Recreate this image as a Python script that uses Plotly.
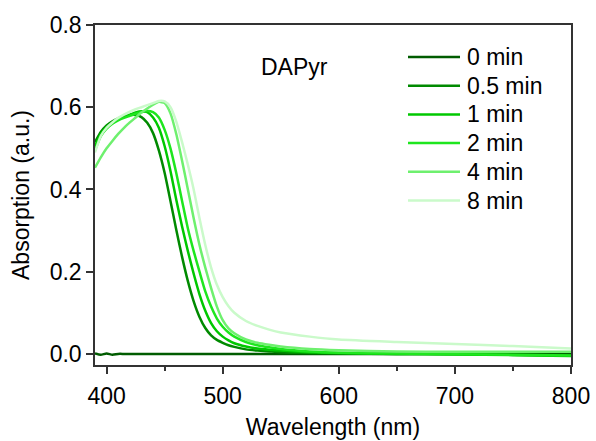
import plotly.graph_objects as go

wavelength = [390, 395, 400, 405, 410, 415, 420, 425, 430, 435, 440, 445, 450, 455, 460, 465,
              470, 475, 480, 485, 490, 495, 500, 505, 510, 520, 530, 540, 550, 575, 600, 650,
              700, 750, 800]

abs_0min = [0.001, -0.002, 0.001, -0.002, 0.0, 0.0, 0.0, 0.0, 0.0, 0.0, 0.0, 0.0, 0.0, 0.0, 0.0, 0.0,
            0.0, 0.0, 0.0, 0.0, 0.0, 0.0, 0.0, 0.0, 0.0, 0.0, 0.0, 0.0, 0.0, 0.0, 0.0, 0.0,
            0.0, 0.0, 0.0]
abs_05min = [0.515, 0.54, 0.556, 0.566, 0.573, 0.578, 0.581, 0.581, 0.576, 0.562, 0.537, 0.495, 0.44, 0.372, 0.302, 0.236,
             0.177, 0.128, 0.09, 0.063, 0.045, 0.034, 0.027, 0.021, 0.017, 0.011, 0.008, 0.006, 0.004, 0.002, 0.001, 0.0,
             -0.001, -0.002, -0.003]
abs_1min = [0.505, 0.535, 0.552, 0.563, 0.571, 0.577, 0.582, 0.587, 0.59, 0.588, 0.575, 0.55, 0.505, 0.445, 0.375, 0.31,
            0.25, 0.195, 0.145, 0.105, 0.075, 0.055, 0.042, 0.033, 0.026, 0.018, 0.013, 0.01, 0.008, 0.004, 0.002, 0.0,
            -0.001, -0.003, -0.005]
abs_2min = [0.495, 0.53, 0.548, 0.56, 0.568, 0.574, 0.579, 0.584, 0.588, 0.591, 0.588, 0.575, 0.545, 0.5, 0.44, 0.372,
            0.305, 0.25, 0.2, 0.152, 0.115, 0.086, 0.066, 0.052, 0.042, 0.029, 0.021, 0.016, 0.012, 0.006, 0.003, 0.001,
            -0.001, -0.002, -0.004]
abs_4min = [0.453, 0.478, 0.5, 0.518, 0.535, 0.55, 0.563, 0.575, 0.587, 0.597, 0.606, 0.613, 0.61, 0.585, 0.535, 0.47,
            0.4, 0.33, 0.265, 0.21, 0.16, 0.115, 0.082, 0.062, 0.05, 0.035, 0.027, 0.022, 0.018, 0.012, 0.009, 0.006,
            0.005, 0.005, 0.005]
abs_8min = [0.49, 0.53, 0.55, 0.563, 0.574, 0.582, 0.589, 0.595, 0.6, 0.605, 0.61, 0.615, 0.614, 0.6, 0.565, 0.515,
            0.46, 0.4, 0.33, 0.265, 0.21, 0.168, 0.138, 0.116, 0.1, 0.08, 0.068, 0.059, 0.052, 0.042, 0.035, 0.029,
            0.024, 0.019, 0.013]

series_names = ["0 min", "0.5 min", "1 min", "2 min", "4 min", "8 min"]
series_values = [abs_0min, abs_05min, abs_1min, abs_2min, abs_4min, abs_8min]
colors = ["#005c00", "#008a00", "#00c800", "#1ee61e", "#6ef06e", "#cafaca"]

x_ticks = [400, 500, 600, 700, 800]
y_ticks = [0.0, 0.2, 0.4, 0.6, 0.8]
y_tick_labels = ["0.0", "0.2", "0.4", "0.6", "0.8"]

FONT = "Arial, Liberation Sans, sans-serif"
FS = 23

fig = go.Figure()
for name, vals, c in zip(series_names, series_values, colors):
    fig.add_trace(go.Scatter(x=wavelength, y=vals, mode="lines", name=name, showlegend=False,
                             line=dict(color=c, width=2.5, shape="spline", smoothing=0.6)))

# Legend drawn in paper coordinates (sample line + label per series)
L, T, W, H = 95, 25, 476, 340
def px2paper(px, py):
    return (px - L) / W, 1 - (py - T) / H

shapes = []
annotations = []
for i, (name, c) in enumerate(zip(series_names, colors)):
    row_y = 57 + 28.7 * i
    x0, y0 = px2paper(408, row_y)
    x1, _ = px2paper(460, row_y)
    tx, _ = px2paper(465, row_y)
    shapes.append(dict(type="line", xref="paper", yref="paper", x0=x0, x1=x1, y0=y0, y1=y0,
                       line=dict(color=c, width=2.5)))
    annotations.append(dict(text=name, x=tx, y=y0, xref="paper", yref="paper", xanchor="left",
                            yanchor="middle", showarrow=False,
                            font=dict(family=FONT, size=FS, color="black")))

dx, dy = px2paper(294, 67)
annotations.append(dict(text="DAPyr", x=dx, y=dy, xref="paper", yref="paper", xanchor="center",
                        yanchor="middle", showarrow=False, font=dict(family=FONT, size=FS, color="black")))

fig.update_layout(
    width=596, height=441,
    margin=dict(l=L, r=596 - L - W, t=T, b=441 - T - H, autoexpand=False),
    paper_bgcolor="white", plot_bgcolor="white",
    font=dict(family=FONT, size=FS, color="black"),
    shapes=shapes,
    annotations=annotations,
)
fig.update_xaxes(range=[390, 800], tickvals=x_ticks, ticks="outside", ticklen=7, tickwidth=1.5,
                 tickcolor="#333", showline=True, linecolor="#333", linewidth=1.5, mirror=True,
                 showgrid=False, zeroline=False, ticklabelstandoff=3, automargin=False,
                 minor=dict(tickvals=[450, 550, 650, 750], ticks="outside", ticklen=4, tickcolor="#333", tickwidth=1.5),
                 title=dict(text="Wavelength (nm)", font=dict(family=FONT, size=FS), standoff=11),
                 tickfont=dict(family=FONT, size=FS))
fig.update_yaxes(range=[-0.027, 0.8], tickvals=y_ticks, ticktext=y_tick_labels, ticks="outside", ticklen=7,
                 tickwidth=1.5, tickcolor="#333", showline=True, linecolor="#333", linewidth=1.5, mirror=True,
                 showgrid=False, zeroline=False, automargin=False,
                 title=dict(text="Absorption (a.u.)", font=dict(family=FONT, size=FS), standoff=14),
                 tickfont=dict(family=FONT, size=FS))

fig.write_html("out.html")
